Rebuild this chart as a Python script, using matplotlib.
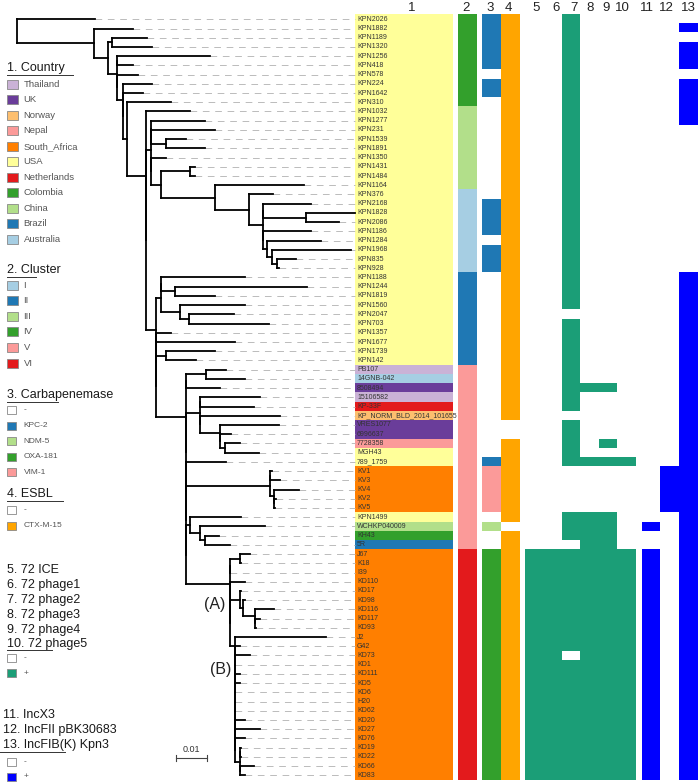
import matplotlib.pyplot as plt
import numpy as np
from matplotlib.collections import LineCollection
from matplotlib.colors import to_rgb
from matplotlib.patches import Rectangle

plt.rcParams["font.family"] = ["Liberation Sans", "DejaVu Sans"]
plt.rcParams["lines.scale_dashes"] = False

# tree, branch lengths in 1e-3 substitutions/site
CLADE_B = ("(J2:29.4,(G42:1.6,(KD73:4.8,(KD1:0.1,(KD111:1.6,(KD5:1.6,(KD6:0.1,"
           "(H20:0.1,(KD62:0.1,(KD20:3.2,(KD27:8.1,(KD76:3.2,((KD19:0.3,KD22:0.3):0,"
           "(KD66:4.8,KD83:1.6):0):1.6)"
           ":0):0):0):0):0)" ":0):0):0):0):0)" ":0)")
CLADE_A = ("(((J67:3.2,K18:0.3):3.2,I39:0.1):0,(KD110:4.8,((KD17:0.6,(KD98:0.6,"
           "(KD116:6.2,(KD117:1.6,KD93:0.3):0):3.8):1.1):3.2," + CLADE_B + ":1.6):0):0)")
CLADE_KV = "((KV1:0.6,KV3:3.2):0,(KV4:8.1,(KV2:0.6,KV5:0.3):0):1.3)"
CLADE_V = ("(((PB107:6.4,14GNB-042:12.8):6.5,8508494:11.2):0,"
           "(((15106582:19.4,KP-33F:17.7):0,(KP_NORM_BLD_2014_101655:25.8,"
           "(VRES1077:19.1,(6996637:3.5,(7728358:4.8,MGH43:11.1):1.6):0):6.5):0):4.5,"
           "(789_1759:12.9,(" + CLADE_KV + ":27.1,((KPN1499:16.4,(WCHKP040009:21.0,"
           "(KH43:4.8,5R:8.1):1.6):3.2):1.3," + CLADE_A + ":14.2):0):0):0):0)")
CLADE_II = ("(((KPN1188:27.1,(KPN1244:42.5,KPN1819:12.8):4.6):0,"
            "(KPN1560:21.0,(KPN2047:14.5,KPN703:25.8):3.0):6.1):1.6,"
            "((KPN1357:4.8,KPN1677:25.5):0,((KPN1739:16.0,KPN142:9.7):3.0,"
            + CLADE_V + ":9.5):0):0)")
CLADE_I = ("((KPN1277:17.5,(KPN231:20.7,(KPN1539:6.7,KPN1891:12.9):4.6):0):0,"
           "(KPN1350:4.8,((KPN1431:1.4,KPN1484:1.4):9.4,(KPN1164:28.7,(KPN376:8.0,"
           "((KPN2168:15.6,(KPN1828:15.9,KPN2086:10.7):14.0):0,(KPN1186:15.6,"
           "(KPN1284:17.2,(KPN1968:25.3,(KPN835:5.9,KPN928:0.5):1.6):1.6):1.6):0)"
           ":4.5):10.7):17.5):3.2):0)")
TREE = ("(KPN2026:25.3,(KPN1882:12.7,((KPN1189:11.0,KPN1320:12.6):1.4,"
        "((KPN1256:29.9,KPN418:5.0):0,(KPN578:6.6,(KPN224:9.2,(KPN1642:6.3,"
        "(KPN310:14.2,(KPN1032:14.2,(" + CLADE_I + ":1.6," + CLADE_II + ":3.2)"
        ":0):6.1):1.4):0):1.9):0):2.9):4.6):24.9);")
SCALE_LEN = 0.01

COUNTRY_RUNS = [("USA", 38), ("Thailand", 1), ("Australia", 1), ("UK", 1),
                ("Thailand", 1), ("Netherlands", 1), ("Norway", 1), ("UK", 2),
                ("Nepal", 1), ("USA", 2), ("South_Africa", 5), ("USA", 1),
                ("China", 1), ("Colombia", 1), ("Brazil", 1), ("South_Africa", 25)]
CLUSTER_RUNS = [("IV", 10), ("III", 9), ("I", 9), ("II", 10), ("V", 20), ("VI", 25)]
CARB_RUNS = [("KPC-2", 6), ("-", 1), ("KPC-2", 2), ("-", 11), ("KPC-2", 4), ("-", 1),
             ("KPC-2", 3), ("-", 20), ("KPC-2", 1), ("VIM-1", 5), ("-", 1),
             ("NDM-5", 1), ("-", 2), ("OXA-181", 25)]
ESBL_RUNS = [("CTX-M-15", 44), ("-", 2), ("CTX-M-15", 9), ("-", 1), ("CTX-M-15", 27)]

# presence per leaf, rows in groups of ten
PHAGE = {
    "5": "0000000000 0000000000 0000000000 0000000000 0000000000 0000000011 1111111111 1111111111 111",
    "6": "0000000000 0000000000 0000000000 0000000000 0000000000 0000000011 1111111111 1111111111 111",
    "7": "1111111111 1111111111 1111111111 1101111111 1110111110 0000111011 1111111110 1111111111 111",
    "8": "0000000000 0000000000 0000000000 0000000000 1000000010 0000111111 1111111111 1111111111 111",
    "9": "0000000000 0000000000 0000000000 0000000000 1000001010 0000111111 1111111111 1111111111 111",
    "10": "0000000000 0000000000 0000000000 0000000000 0000000010 0000000011 1111111111 1111111111 111",
}
PLASMID = {
    "11": "0000000000 0000000000 0000000000 0000000000 0000000000 0000010011 1111111111 1111111111 111",
    "12": "0000000000 0000000000 0000000000 0000000000 0000000001 1111000000 0000000000 0000000000 000",
    "13": "0101110111 1100000000 0000000011 1111111111 1111111111 1111111111 1111111111 1111111111 111",
}

COUNTRY_COLORS = {"Thailand": "#cab2d6", "UK": "#6a3d9a", "Norway": "#fdbf6f",
                  "Nepal": "#fb9a99", "South_Africa": "#ff7f00", "USA": "#ffff99",
                  "Netherlands": "#e31a1c", "Colombia": "#33a02c", "China": "#b2df8a",
                  "Brazil": "#1f78b4", "Australia": "#a6cee3"}
CLUSTER_COLORS = {"I": "#a6cee3", "II": "#1f78b4", "III": "#b2df8a",
                  "IV": "#33a02c", "V": "#fb9a99", "VI": "#e31a1c"}
CARB_COLORS = {"-": "#ffffff", "KPC-2": "#1f78b4", "NDM-5": "#b2df8a",
               "OXA-181": "#33a02c", "VIM-1": "#fb9a99"}
ESBL_COLORS = {"-": "#ffffff", "CTX-M-15": "#ffa500"}
PHAGE_COLOR = "#1b9e77"
PLASMID_COLOR = "#0000ff"


def expand(runs):
    return [value for value, count in runs for _ in range(count)]


def parse_newick(text):
    text = "".join(text.split())
    pos = 0

    def read():
        nonlocal pos
        node = {"children": [], "name": "", "length": 0.0}
        if text[pos] == "(":
            pos += 1
            while True:
                node["children"].append(read())
                ch = text[pos]
                pos += 1
                if ch == ")":
                    break
        start = pos
        while text[pos] not in ":,);":
            pos += 1
        node["name"] = text[start:pos]
        if text[pos] == ":":
            pos += 1
            start = pos
            while text[pos] not in ",);":
                pos += 1
            node["length"] = float(text[start:pos]) * 1e-3
        return node

    return read()


root = parse_newick(TREE)
leaves = []
branches = []


def layout(node, x):
    node["x"] = x
    if not node["children"]:
        node["y"] = len(leaves)
        leaves.append(node)
        return
    for child in node["children"]:
        layout(child, x + child["length"])
    ys = [child["y"] for child in node["children"]]
    node["y"] = np.mean(ys)
    branches.append([(x, min(ys)), (x, max(ys))])
    for child in node["children"]:
        branches.append([(x, child["y"]), (child["x"], child["y"])])


layout(root, 0.0)
n_rows = len(leaves)

# figure geometry in pixels
W, H = 699, 783
ROW0, ROWH = 19.3, 9.22
ROOT_X, PX_PER_SUB = 16.7, 3100.0
LABEL_PX = 355
row_lim = ((H - ROW0) / ROWH, -ROW0 / ROWH)

fig = plt.figure(figsize=(W / 100, H / 100), dpi=100)

hax = fig.add_axes([0, 0, 1, 1])
tax = fig.add_axes([0, 0, 1, 1])
lax = fig.add_axes([0, 0, 1, 1])

# heatmap columns
columns = [
    ((355, 452.5), [COUNTRY_COLORS[v] for v in expand(COUNTRY_RUNS)]),
    ((458.3, 477.3), [CLUSTER_COLORS[v] for v in expand(CLUSTER_RUNS)]),
    ((482.3, 501), [CARB_COLORS[v] for v in expand(CARB_RUNS)]),
    ((501, 519.3), [ESBL_COLORS[v] for v in expand(ESBL_RUNS)]),
]
for k, key in enumerate(PHAGE):
    flags = PHAGE[key].replace(" ", "")
    x0 = 524.7 + k * 18.55
    columns.append(((x0, x0 + 18.55),
                    [PHAGE_COLOR if f == "1" else "#ffffff" for f in flags]))
for (x0, x1), key in zip([(641.7, 660), (660, 678.7), (678.7, 697)], PLASMID):
    flags = PLASMID[key].replace(" ", "")
    columns.append(((x0, x1),
                    [PLASMID_COLOR if f == "1" else "#ffffff" for f in flags]))

for (x0, x1), colors in columns:
    rgb = np.array([to_rgb(c) for c in colors])[:, None, :]
    hax.imshow(rgb, extent=(x0, x1, n_rows - 0.5, -0.5), aspect="auto",
               interpolation="nearest")

for leaf in leaves:
    hax.text(357, leaf["y"], leaf["name"], fontsize=5, va="center", ha="left",
             color="#333333")

hax.set_xlim(0, W)
hax.set_ylim(*row_lim)
hax.axis("off")

# tree
label_x = (LABEL_PX - ROOT_X) / PX_PER_SUB
dashes = [[(leaf["x"], leaf["y"]), (label_x, leaf["y"])]
          for leaf in leaves if leaf["x"] < label_x]
tax.add_collection(LineCollection(dashes, colors="#bbbbbb", linewidths=0.7,
                                  linestyles=[(0, (4.8, 4.1))]))
tax.add_collection(LineCollection(branches, colors="black", linewidths=1.3,
                                  capstyle="projecting"))

sx0 = (175.7 - ROOT_X) / PX_PER_SUB
sy = (758.3 - ROW0) / ROWH
tax.plot([sx0, sx0 + SCALE_LEN], [sy, sy], color="#444444", lw=0.8)
for sx in (sx0, sx0 + SCALE_LEN):
    tax.plot([sx, sx], [sy - 0.33, sy + 0.33], color="#444444", lw=0.8)
tax.text(sx0 + SCALE_LEN / 2, sy - 1.0, "0.01", ha="center", va="center",
         fontsize=6.5, color="#333333")

tax.set_xlim(-ROOT_X / PX_PER_SUB, (W - ROOT_X) / PX_PER_SUB)
tax.set_ylim(*row_lim)
tax.axis("off")

# column headers and clade labels
header_x = [412, 466, 490, 508, 536, 556, 574, 590, 606, 622, 647, 666, 688]
for k, x in enumerate(header_x):
    lax.text(x, 8, str(k + 1), ha="center", va="center", fontsize=9.5,
             color="#222222")

lax.text(225, 605, "(A)", ha="right", va="center", fontsize=11.5, color="#222222")
lax.text(231.7, 669.3, "(B)", ha="right", va="center", fontsize=11.5, color="#222222")


def legend_title(lines, y0, step, ul_y, ul_x0, ul_x1, x=6.7):
    for k, line in enumerate(lines):
        lax.text(x, y0 + k * step, line, ha="left", va="center", fontsize=9,
                 color="#1a1a1a")
    lax.plot([ul_x0, ul_x1], [ul_y, ul_y], color="#333333", lw=0.7)


def legend_items(labels, colors, y0, step, box_w, box_h, fs):
    for k, (label, color) in enumerate(zip(labels, colors)):
        y = y0 + k * step
        lax.add_patch(Rectangle((6.7, y - box_h / 2), box_w, box_h,
                                facecolor=color, edgecolor="#888888", lw=0.6))
        lax.text(23.5, y, label, ha="left", va="center", fontsize=fs,
                 color="#555555")


country_order = ["Thailand", "UK", "Norway", "Nepal", "South_Africa", "USA",
                 "Netherlands", "Colombia", "China", "Brazil", "Australia"]
legend_title(["1. Country"], 68.3, 0, 75, 6.7, 72.7)
legend_items(country_order, [COUNTRY_COLORS[c] for c in country_order],
             84.3, 15.5, 11, 9, 6.8)

cluster_order = ["I", "II", "III", "IV", "V", "VI"]
legend_title(["2. Cluster"], 270, 0, 276.7, 6.7, 36)
legend_items(cluster_order, [CLUSTER_COLORS[c] for c in cluster_order],
             285, 15.6, 11, 9, 6.8)

carb_order = ["-", "KPC-2", "NDM-5", "OXA-181", "VIM-1"]
legend_title(["3. Carbapenemase"], 395, 0, 401.7, 6.7, 58.3)
legend_items(carb_order, [CARB_COLORS[c] for c in carb_order], 410, 15.6, 9, 8, 6)

legend_title(["4. ESBL"], 494, 0, 501, 6.7, 63.3)
legend_items(["-", "CTX-M-15"], [ESBL_COLORS["-"], ESBL_COLORS["CTX-M-15"]],
             510, 15.7, 9, 8, 6)

legend_title(["5. 72 ICE", "6. 72 phage1", "7. 72 phage2", "8. 72 phage3",
              "9. 72 phage4", "10. 72 phage5"], 570, 14.9, 650, 6.7, 51.7)
legend_items(["-", "+"], ["#ffffff", PHAGE_COLOR], 657.7, 15.6, 9, 8, 6)

legend_title(["11. IncX3", "12. IncFII pBK30683", "13. IncFIB(K) Kpn3"],
             715, 15, 751.7, 0, 65, x=2.7)
legend_items(["-", "+"], ["#ffffff", PLASMID_COLOR], 761.7, 15, 9, 8, 6)

lax.set_xlim(0, W)
lax.set_ylim(H, 0)
lax.axis("off")

fig.savefig("out.png", dpi=100)
plt.close(fig)
